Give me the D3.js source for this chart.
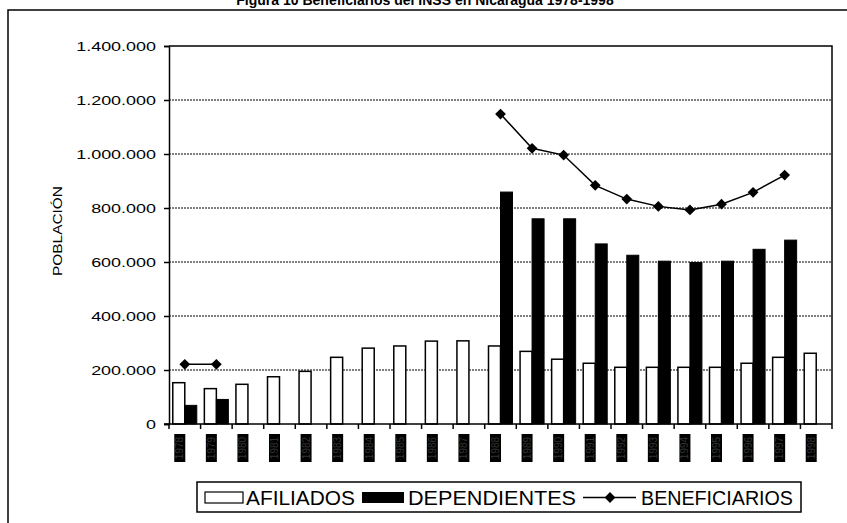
<!DOCTYPE html>
<html>
<head>
<meta charset="utf-8">
<script src="https://cdn.jsdelivr.net/npm/d3@7"></script>
<style>
  body { margin: 0; background: #fff; }
  svg { display: block; font-family: "Liberation Sans", Arial, sans-serif; }
</style>
</head>
<body>
<svg id="chart" width="847" height="523"></svg>
<script>
// data
const years = ["1978","1979","1980","1981","1982","1983","1984","1985","1986","1987","1988",
               "1989","1990","1991","1992","1993","1994","1995","1996","1997","1998"];
const afiliados = [153000,131000,147000,175000,195000,247000,281000,289000,307000,308000,289000,
                   269000,240000,225000,210000,210000,210000,210000,225000,247000,262000];
const dependientes = [69000,91000,null,null,null,null,null,null,null,null,859000,
                      760000,760000,667000,625000,603000,598000,603000,647000,681000,null];
const beneficiarios = [221000,221000,null,null,null,null,null,null,null,null,1148000,
                       1021000,996000,884000,833000,806000,793000,814000,858000,922000,null];
const yTicks = [0,200000,400000,600000,800000,1000000,1200000,1400000];

const svg = d3.select("#chart");
const pLeft = 169, pRight = 832, pTop = 46, pBottom = 424;

const loc = d3.formatLocale({decimal: ",", thousands: ".", grouping: [3], currency: ["", ""]});
const fmt = loc.format(",");

let x = d3.scaleBand().domain(years).range([pLeft, pRight]);
let y = d3.scaleLinear().domain([0, 1400000]).range([pBottom, pTop]);
const bw = 12;

// outer frame + title (title is clipped by the top of the page)
svg.append("rect").attr("x", 8).attr("y", 10).attr("width", 860).attr("height", 540)
  .attr("fill", "none").attr("stroke", "#000").attr("stroke-width", 1.5);
svg.append("text").attr("x", 425).attr("y", 5).attr("text-anchor", "middle")
  .attr("font-size", 14).attr("font-weight", "bold")
  .text("Figura 10  Beneficiarios del INSS en Nicaragua 1978-1998");

// gridlines
svg.append("g").selectAll("line").data(yTicks.filter(d => d > 0 && d < 1400000)).join("line")
  .attr("x1", pLeft).attr("x2", pRight)
  .attr("y1", d => y(d)).attr("y2", d => y(d))
  .attr("stroke", "#000").attr("stroke-width", 1).attr("stroke-dasharray", "2,1");

// plot border top/right
svg.append("path").attr("d", `M${pLeft},${pTop}H${pRight}V${pBottom}`)
  .attr("fill", "none").attr("stroke", "#000").attr("stroke-width", 1.5);

// bars
svg.append("g").selectAll("rect").data(years).join("rect")
  .attr("x", d => x(d) + x.bandwidth() / 2 - bw)
  .attr("y", (d, i) => y(afiliados[i]))
  .attr("width", bw)
  .attr("height", (d, i) => pBottom - y(afiliados[i]))
  .attr("fill", "#fff").attr("stroke", "#000").attr("stroke-width", 1.5);

svg.append("g").selectAll("rect").data(years.filter((d, i) => dependientes[i] != null)).join("rect")
  .attr("x", d => x(d) + x.bandwidth() / 2)
  .attr("y", d => y(dependientes[years.indexOf(d)]))
  .attr("width", bw)
  .attr("height", d => pBottom - y(dependientes[years.indexOf(d)]))
  .attr("fill", "#000").attr("stroke", "#000").attr("stroke-width", 1);

// y axis
const yAxis = svg.append("g").attr("transform", `translate(${pLeft},0)`)
  .call(d3.axisLeft(y).tickValues(yTicks).tickFormat(fmt).tickSize(5).tickPadding(8));
yAxis.select(".domain").attr("stroke-width", 1.5);
yAxis.selectAll("line").attr("stroke-width", 1.5);
yAxis.selectAll("text").attr("font-size", 13).attr("font-family", "Liberation Sans, Arial, sans-serif")
  .attr("fill", "#000")
  .each(function() {
    const w = this.getComputedTextLength();
    d3.select(this).attr("textLength", w * 1.38).attr("lengthAdjust", "spacingAndGlyphs");
  });

// x axis
const xAxis = svg.append("g").attr("transform", `translate(0,${pBottom})`);
xAxis.append("line").attr("x1", pLeft - 5).attr("x2", pRight).attr("stroke", "#000").attr("stroke-width", 1.5);
xAxis.selectAll(".tk").data(years.concat(["end"])).join("line").attr("class", "tk")
  .attr("x1", d => d === "end" ? pRight : x(d)).attr("x2", d => d === "end" ? pRight : x(d))
  .attr("y1", 0).attr("y2", 5).attr("stroke", "#000").attr("stroke-width", 1.5);

// x labels: rotated years on black highlight
const lab = svg.append("g").selectAll("g").data(years).join("g")
  .attr("transform", d => `translate(${x(d) + x.bandwidth() / 2 - 5},448)`);
lab.append("rect").attr("x", -5.5).attr("y", -14).attr("width", 11).attr("height", 28).attr("fill", "#000");
lab.append("text").attr("transform", "rotate(-90)").attr("text-anchor", "middle").attr("dy", "0.35em")
  .attr("font-size", 10).attr("fill", "#333").text(d => d);

// beneficiarios line
const line = d3.line()
  .defined(d => d != null)
  .x((d, i) => x(years[i]) + x.bandwidth() / 2)
  .y(d => y(d));
svg.append("path").datum(beneficiarios).attr("d", line)
  .attr("fill", "none").attr("stroke", "#000").attr("stroke-width", 1.5);
const diamond = d3.symbol().type(d3.symbolSquare).size(58);
svg.append("g").selectAll("path").data(years.filter((d, i) => beneficiarios[i] != null)).join("path")
  .attr("transform", d => `translate(${x(d) + x.bandwidth() / 2},${y(beneficiarios[years.indexOf(d)])}) rotate(45)`)
  .attr("d", diamond).attr("fill", "#000");

// y title
svg.append("text").attr("transform", "translate(62,231) rotate(-90)").attr("text-anchor", "middle")
  .attr("font-size", 13).attr("fill", "#000")
  .attr("textLength", 90).attr("lengthAdjust", "spacingAndGlyphs")
  .text("POBLACIÓN");

// legend
const lg = svg.append("g");
lg.append("rect").attr("x", 197).attr("y", 482).attr("width", 604).attr("height", 30)
  .attr("fill", "#fff").attr("stroke", "#000").attr("stroke-width", 1.5);
lg.append("rect").attr("x", 205).attr("y", 492).attr("width", 38).attr("height", 11)
  .attr("fill", "#fff").attr("stroke", "#000").attr("stroke-width", 1.2);
lg.append("text").attr("x", 246).attr("y", 505).attr("font-size", 20)
  .attr("textLength", 109).attr("lengthAdjust", "spacingAndGlyphs").text("AFILIADOS");
lg.append("rect").attr("x", 362).attr("y", 492).attr("width", 42).attr("height", 11).attr("fill", "#000");
lg.append("text").attr("x", 408).attr("y", 505).attr("font-size", 20)
  .attr("textLength", 168).attr("lengthAdjust", "spacingAndGlyphs").text("DEPENDIENTES");
lg.append("line").attr("x1", 583).attr("x2", 636).attr("y1", 497.5).attr("y2", 497.5)
  .attr("stroke", "#000").attr("stroke-width", 1.5);
lg.append("path").attr("transform", "translate(610,497.5) rotate(45)").attr("d", diamond).attr("fill", "#000");
lg.append("text").attr("x", 641).attr("y", 505).attr("font-size", 20)
  .attr("textLength", 152).attr("lengthAdjust", "spacingAndGlyphs").text("BENEFICIARIOS");
</script>
</body>
</html>
